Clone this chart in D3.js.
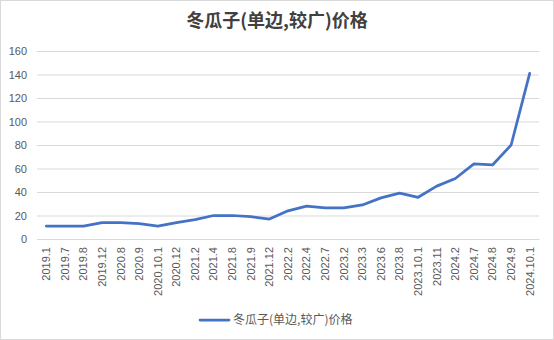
<!DOCTYPE html>
<html>
<head>
<meta charset="utf-8">
<script src="https://cdn.jsdelivr.net/npm/d3@7"></script>
<style>
  html, body { margin: 0; padding: 0; background: #fff; }
  svg { display: block; }
</style>
</head>
<body>
<svg id="chart" width="554" height="340"></svg>
<script>
// Price series: 冬瓜子(单边,较广)
const categories = ["2019.1","2019.7","2019.8","2019.12","2020.8","2020.9","2020.10.1","2020.12",
  "2021.2","2021.4","2021.8","2021.9","2021.12","2022.2","2022.4","2022.7","2023.2","2023.3",
  "2023.6","2023.8","2023.10.1","2023.11","2024.2","2024.7","2024.8","2024.9","2024.10.1"];
const prices = [11,11,11,14,14,13,11,14,16.5,20,20,19,17,24,28,26.5,26.5,29,35,39,35.5,45,51.5,64,63,80,141];
const yTicks = [0,20,40,60,80,100,120,140,160];
const seriesName = "冬瓜子(单边,较广)价格";
const titleText = "冬瓜子(单边,较广)价格";

const W = 554, H = 340;
const plot = { left: 37, right: 539, top: 51, bottom: 239 };
const font = "'Liberation Sans', Arial, 'Noto Sans CJK SC', sans-serif";

const svg = d3.select("#chart");

// outer frame
svg.append("rect")
  .attr("x", 0.5).attr("y", 0.5)
  .attr("width", W - 1).attr("height", H - 1)
  .attr("fill", "#fff").attr("stroke", "#d9d9d9");

const x = d3.scaleBand().domain(categories).range([plot.left, plot.right]);
const y = d3.scaleLinear().domain([0, 160]).range([plot.bottom, plot.top]);

// horizontal gridlines + y labels
const yAxis = d3.axisLeft(y).tickValues(yTicks).tickSize(-(plot.right - plot.left)).tickPadding(10);
const gy = svg.append("g").attr("transform", `translate(${plot.left},0)`).call(yAxis);
gy.select(".domain").remove();
gy.selectAll(".tick line").attr("stroke", "#d9d9d9").attr("stroke-width", 1);
gy.selectAll(".tick text")
  .attr("fill", "#595959").attr("font-size", 11).attr("font-family", font);

// category axis
const xAxis = d3.axisBottom(x).tickSize(0).tickPadding(0);
const gx = svg.append("g").attr("transform", `translate(0,${plot.bottom})`).call(xAxis);
gx.select(".domain").attr("stroke", "#d9d9d9");
gx.selectAll(".tick text")
  .attr("fill", "#595959").attr("font-size", 11).attr("font-family", font)
  .attr("text-anchor", "end")
  .attr("dy", "0.35em")
  .attr("transform", "translate(0,8) rotate(-90)")
  .attr("x", 0).attr("y", 0);

// price line
const line = d3.line()
  .x((d, i) => x(categories[i]) + x.bandwidth() / 2)
  .y(d => y(d));
svg.append("path")
  .datum(prices)
  .attr("d", line)
  .attr("fill", "none")
  .attr("stroke", "#4472c4")
  .attr("stroke-width", 2.75)
  .attr("stroke-linejoin", "round")
  .attr("stroke-linecap", "round");

// title
svg.append("text")
  .attr("x", W / 2).attr("y", 27)
  .attr("text-anchor", "middle")
  .attr("font-family", "'Noto Sans CJK SC', sans-serif")
  .attr("font-weight", "bold")
  .attr("font-size", 18)
  .attr("fill", "#404040")
  .text(titleText);

// legend
const lg = svg.append("g").attr("transform", "translate(200,320)");
lg.append("line").attr("x1", 0).attr("x2", 29).attr("y1", 0).attr("y2", 0)
  .attr("stroke", "#4472c4").attr("stroke-width", 2.75).attr("stroke-linecap", "round");
lg.append("text").attr("x", 33).attr("y", 0).attr("dy", "0.35em")
  .attr("font-family", "'Noto Sans CJK SC', sans-serif").attr("font-size", 12)
  .attr("fill", "#595959").text(seriesName);
</script>
</body>
</html>
